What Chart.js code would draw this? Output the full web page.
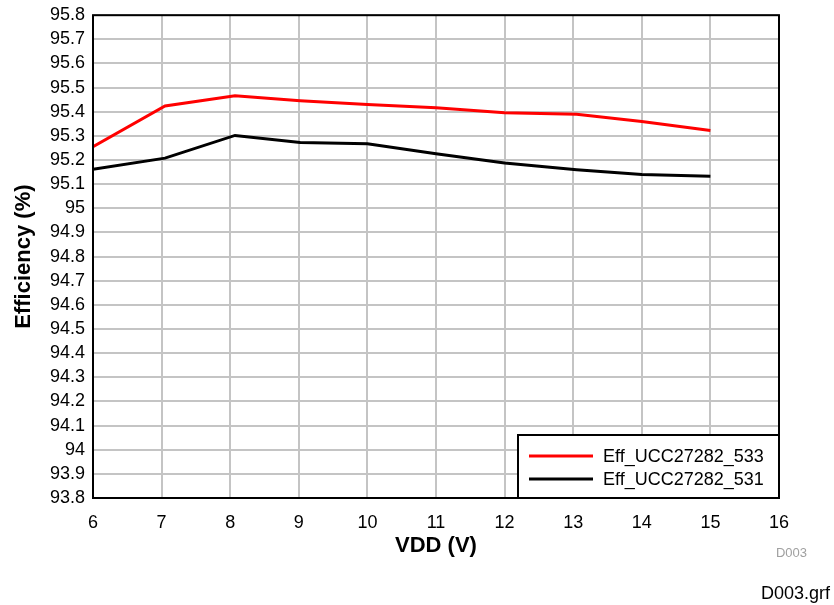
<!DOCTYPE html>
<html>
<head>
<meta charset="utf-8">
<script src="https://cdn.jsdelivr.net/npm/chart.js@4/dist/chart.umd.min.js"></script>
<style>
html,body{margin:0;padding:0;background:#fff;}
#wrap{width:834px;height:605px;position:relative;}
</style>
</head>
<body>
<div id="wrap"><canvas id="c" width="834" height="605"></canvas></div>
<script>
const vdd = [6, 7.05, 8.07, 9.02, 10, 11, 12, 13.05, 14, 15];
const eff533 = [95.255, 95.424, 95.466, 95.446, 95.43, 95.417, 95.396, 95.39, 95.36, 95.322];
const eff531 = [95.162, 95.208, 95.302, 95.273, 95.267, 95.226, 95.188, 95.16, 95.14, 95.133];
const seriesLabels = ['Eff_UCC27282_533', 'Eff_UCC27282_531'];
const xTitle = 'VDD (V)';
const yTitle = 'Efficiency (%)';
const FONT = '"Liberation Sans", Arial, sans-serif';

const legendBox = {
  id: 'legendBox',
  afterDraw(chart) {
    const {ctx, chartArea} = chart;
    const w = 261, h = 63;
    const x = chartArea.right - w, y = chartArea.bottom - h;
    ctx.save();
    ctx.fillStyle = '#fff';
    ctx.fillRect(x, y, w, h);
    ctx.strokeStyle = '#000';
    ctx.lineWidth = 2;
    ctx.strokeRect(x, y, w, h);
    chart.data.datasets.forEach((ds, i) => {
      const ly = y + 21 + i * 23;
      ctx.strokeStyle = ds.borderColor;
      ctx.lineWidth = 3;
      ctx.beginPath();
      ctx.moveTo(x + 11, ly);
      ctx.lineTo(x + 75, ly);
      ctx.stroke();
      ctx.fillStyle = '#000';
      ctx.font = '18px ' + FONT;
      ctx.textBaseline = 'middle';
      ctx.fillText(ds.label, x + 85, ly + 1);
    });
    ctx.restore();
  }
};

const borderPlugin = {
  id: 'borderPlugin',
  afterDatasetsDraw(chart) {
    const {ctx, chartArea} = chart;
    ctx.save();
    ctx.strokeStyle = '#000';
    ctx.lineWidth = 2;
    ctx.strokeRect(chartArea.left, chartArea.top, chartArea.right - chartArea.left, chartArea.bottom - chartArea.top);
    ctx.restore();
  },
  afterDraw(chart) {
    const {ctx} = chart;
    ctx.save();
    ctx.textAlign = 'right';
    ctx.textBaseline = 'middle';
    ctx.fillStyle = '#a0a0a0';
    ctx.font = '13px ' + FONT;
    ctx.fillText('D003', 807, 553);
    ctx.fillStyle = '#000';
    ctx.font = '18px ' + FONT;
    ctx.fillText('D003.grf', 830, 594);
    ctx.restore();
  }
};

new Chart(document.getElementById('c'), {
  type: 'line',
  data: {
    datasets: [
      { label: seriesLabels[0], data: vdd.map((v, i) => ({x: v, y: eff533[i]})), borderColor: '#ff0000', borderWidth: 3, pointRadius: 0, tension: 0, fill: false },
      { label: seriesLabels[1], data: vdd.map((v, i) => ({x: v, y: eff531[i]})), borderColor: '#000000', borderWidth: 3, pointRadius: 0, tension: 0, fill: false }
    ]
  },
  options: {
    responsive: false,
    animation: false,
    devicePixelRatio: 1,
    layout: { padding: { left: 0, right: 55, top: 15, bottom: 46 } },
    plugins: { legend: { display: false }, tooltip: { enabled: false } },
    scales: {
      x: {
        type: 'linear', min: 6, max: 16,
        ticks: { stepSize: 1, autoSkip: false, color: '#000', font: { family: FONT, size: 18 }, padding: 14, maxRotation: 0 },
        grid: { color: '#c4c4c4', lineWidth: 2, drawTicks: false },
        border: { display: false },
        title: { display: true, text: xTitle, color: '#000', font: { family: FONT, size: 22, weight: 'bold' }, padding: { top: 0, bottom: 0 } },
        afterFit(s) { s.height = 61; }
      },
      y: {
        min: 93.8, max: 95.8,
        ticks: { stepSize: 0.1, autoSkip: false, color: '#000', font: { family: FONT, size: 18, lineHeight: 0.8 }, padding: 8,
          callback: v => String(+(+v).toFixed(1)) },
        grid: { color: '#c4c4c4', lineWidth: 2, drawTicks: false },
        border: { display: false },
        title: { display: true, text: yTitle, color: '#000', font: { family: FONT, size: 22, weight: 'bold' }, padding: { top: 11, bottom: 0 } },
        afterFit(s) { s.width = 93; }
      }
    }
  },
  plugins: [borderPlugin, legendBox]
});
</script>
</body>
</html>
